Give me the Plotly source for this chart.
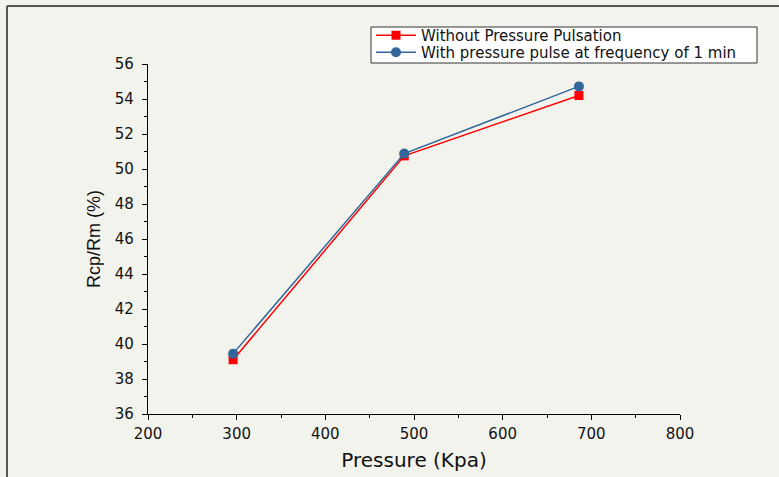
import plotly.graph_objects as go

pressure = [296, 489, 686]
without_pulse = [39.1, 50.75, 54.2]
with_pulse = [39.45, 50.88, 54.72]

x_ticks = [200, 300, 400, 500, 600, 700, 800]
y_ticks = [36, 38, 40, 42, 44, 46, 48, 50, 52, 54, 56]

BG = "#f3f3ee"
WIDE = "DejaVu Sans, Verdana, sans-serif"
NARROW = "Liberation Sans, Arial, sans-serif"
W, H = 779, 477
L, R, T, B = 148, 99, 64, 63
pw, ph = W - L - R, H - T - B

def px2x(p):
    return (p - L) / pw

def py2y(p):
    return (H - B - p) / ph

fig = go.Figure()
fig.add_trace(go.Scatter(
    x=pressure, y=without_pulse, mode="lines+markers",
    name="Without Pressure Pulsation", legend="legend",
    line=dict(color="#ff0000", width=1.5),
    marker=dict(symbol="square", size=9, color="#ff0000"),
))
fig.add_trace(go.Scatter(
    x=pressure, y=with_pulse, mode="lines+markers",
    name="With pressure pulse at frequency of 1 min", legend="legend2",
    line=dict(color="#336699", width=1.5),
    marker=dict(symbol="circle", size=10, color="#336699"),
))

axis_common = dict(
    showgrid=False, zeroline=False, showline=True, linecolor="#000000", linewidth=1.2,
    ticks="outside", ticklen=5, tickwidth=1.2, tickcolor="#000000",
    tickfont=dict(family=WIDE, size=15, color="#111111"), automargin=False,
)

leg_common = dict(xanchor="left", yanchor="top", bgcolor="rgba(0,0,0,0)", borderwidth=0,
                  font=dict(family=WIDE, size=15, color="#111111"), itemwidth=40)

fig.update_layout(
    width=W, height=H,
    margin=dict(l=L, r=R, t=T, b=B),
    paper_bgcolor=BG, plot_bgcolor=BG,
    xaxis=dict(range=[200, 800], tickvals=x_ticks, ticktext=[str(v) for v in x_ticks],
               minor=dict(ticks="outside", ticklen=3, tickwidth=1, tickcolor="#000000", dtick=50),
               ticklabelstandoff=1,
               title=dict(text="Pressure (Kpa)", standoff=10,
                          font=dict(family=WIDE, size=20, color="#111111")),
               **axis_common),
    yaxis=dict(range=[36, 56], tickvals=y_ticks, ticktext=[str(v) for v in y_ticks],
               minor=dict(ticks="outside", ticklen=3, tickwidth=1, tickcolor="#000000", dtick=1),
               ticklabelstandoff=5,
               title=dict(text="Rcp/Rm (%)", standoff=9,
                          font=dict(family=NARROW, size=18, color="#111111")),
               **axis_common),
    legend=dict(x=px2x(371), y=py2y(19), **leg_common),
    legend2=dict(x=px2x(371), y=py2y(36), **leg_common),
    showlegend=True,
    shapes=[
        dict(type="rect", xref="paper", yref="paper", x0=px2x(371), x1=px2x(757), y0=py2y(27), y1=py2y(63),
             fillcolor="#ffffff", line=dict(color="#333333", width=1), layer="above"),
        dict(type="line", xref="paper", yref="paper", x0=px2x(7), x1=px2x(780), y0=py2y(6), y1=py2y(6),
             line=dict(color="#55584f", width=2)),
        dict(type="line", xref="paper", yref="paper", x0=px2x(7), x1=px2x(7), y0=py2y(6), y1=py2y(478),
             line=dict(color="#55584f", width=2)),
    ],
)

fig.write_html("out.html")
